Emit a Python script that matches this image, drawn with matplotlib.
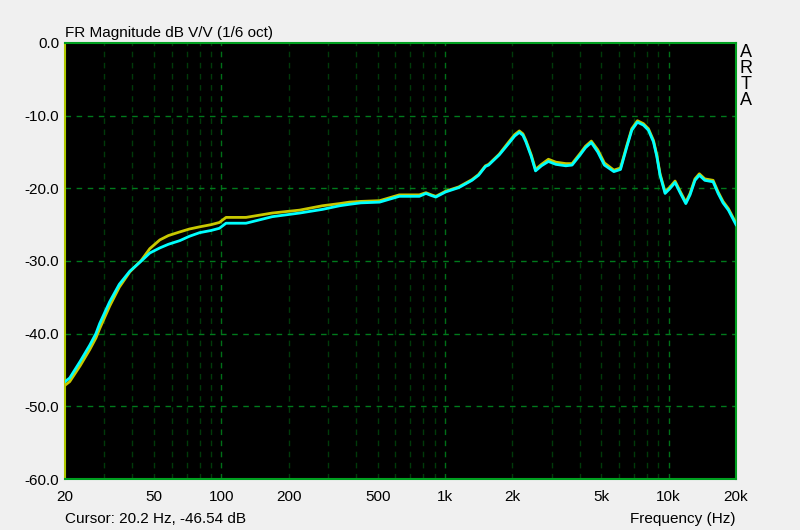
import numpy as np
import matplotlib
matplotlib.use('Agg')
import matplotlib.pyplot as plt
from matplotlib.ticker import FixedLocator, NullFormatter

# frequencies (Hz)
freq = [20, 21, 23.4, 25.8, 27.5, 28.6, 31.7, 35, 39, 43.9, 47.9, 53.1, 58, 65.2, 72, 80, 90, 98,
        105, 129, 169, 224, 283, 338, 374, 420, 510, 625, 768, 822, 870, 910, 1006, 1153, 1320,
        1413, 1516, 1567, 1748, 1930, 2050, 2150, 2230, 2300, 2430, 2540, 2700, 2900, 3130, 3470,
        3700, 4020, 4250, 4510, 4820, 5160, 5690, 6090, 6500, 6840, 7250, 7710, 8120, 8550, 8850,
        9150, 9640, 10150, 10680, 11250, 11930, 12460, 13110, 13710, 14510, 15800, 16640, 17500,
        18500, 20000]

# cyan trace (dB)
cyan_db = [-46.6, -46.1, -43.8, -41.6, -40.0, -38.6, -35.6, -33.2, -31.4, -30.0, -28.9, -28.2,
           -27.7, -27.2, -26.6, -26.1, -25.8, -25.5, -24.8, -24.8, -23.9, -23.4, -22.9, -22.4,
           -22.2, -22.0, -21.9, -21.1, -21.1, -20.7, -21.0, -21.2, -20.5, -19.9, -18.9, -18.2,
           -17.0, -16.8, -15.4, -13.8, -12.8, -12.3, -12.7, -13.6, -15.6, -17.6, -16.9, -16.3,
           -16.7, -16.9, -16.8, -15.4, -14.4, -13.7, -15.0, -16.8, -17.7, -17.4, -14.3, -12.0,
           -10.9, -11.3, -12.0, -13.6, -15.6, -18.2, -20.7, -20.0, -19.2, -20.6, -22.1, -20.9,
           -18.9, -18.2, -18.9, -19.1, -20.7, -22.0, -23.0, -25.0]

# yellow trace (dB)
yellow_db = [-47.1, -46.6, -44.4, -42.2, -40.6, -39.3, -36.2, -33.6, -31.5, -29.9, -28.3, -27.1,
             -26.5, -26.0, -25.6, -25.3, -25.0, -24.7, -24.0, -24.0, -23.4, -23.0, -22.4, -22.1,
             -21.9, -21.8, -21.7, -20.9, -20.9, -20.6, -20.9, -21.1, -20.4, -19.8, -18.8, -18.1,
             -16.9, -16.7, -15.3, -13.6, -12.6, -12.1, -12.5, -13.4, -15.4, -17.4, -16.7, -16.0,
             -16.4, -16.6, -16.6, -15.2, -14.2, -13.5, -14.7, -16.5, -17.5, -17.2, -14.1, -11.8,
             -10.7, -11.1, -11.8, -13.4, -15.4, -18.0, -20.5, -19.8, -19.0, -20.4, -21.9, -20.7,
             -18.7, -18.0, -18.7, -18.9, -20.5, -21.8, -22.8, -24.8]

xticks = [20, 50, 100, 200, 500, 1000, 2000, 5000, 10000, 20000]
xlabels = ['20', '50', '100', '200', '500', '1k', '2k', '5k', '10k', '20k']
yticks = [0, -10, -20, -30, -40, -50, -60]

plt.rcParams['font.family'] = ['Liberation Sans', 'DejaVu Sans']
bg = '#f0f0f0'

fig = plt.figure(figsize=(8, 5.3), dpi=100, facecolor=bg)
ax = fig.add_axes([0.0812, 0.0962, 0.8388, 0.8227], facecolor='black')

ax.plot(freq, yellow_db, color='#c8c800', lw=2.0, zorder=3)
ax.plot(freq, cyan_db, color='#00ffff', lw=2.0, zorder=4)

ax.set_xscale('log')
ax.set_xlim(20, 20000)
ax.set_ylim(-60, 0)

# grid: minor decades dim, decades and dB lines brighter
minor = [f * m for f in (10, 100, 1000, 10000) for m in range(2, 10) if 20 < f * m < 20000]
for f in minor:
    ax.axvline(f, color='#003a0a', lw=1, ls=(0, (4, 4)), zorder=1)
for f in (100, 1000, 10000):
    ax.axvline(f, color='#007018', lw=1, ls=(0, (4, 4)), zorder=1)
for y in yticks[1:-1]:
    ax.axhline(y, color='#007a1c', lw=1, ls=(0, (4, 4)), zorder=1)

ax.xaxis.set_major_locator(FixedLocator(xticks))
ax.set_xticklabels(xlabels)
ax.xaxis.set_minor_formatter(NullFormatter())
ax.xaxis.set_minor_locator(FixedLocator([]))
ax.set_yticks(yticks)
ax.set_yticklabels(['%.1f' % v for v in yticks])
ax.tick_params(length=0, labelsize=11, colors='black', pad=4)
ax.tick_params(axis='x', pad=8)

for s in ax.spines.values():
    s.set_color('#00a020')
    s.set_linewidth(1.5)
ax.spines['left'].set_color('#b0c800')

fig.text(0.0812, 0.931, 'FR Magnitude dB V/V (1/6 oct)', fontsize=11, ha='left', va='baseline')
fig.text(0.9325, 0.917, 'A\nR\nT\nA', fontsize=13, ha='center', va='top', linespacing=0.93)
fig.text(0.0812, 0.02, 'Cursor: 20.2 Hz, -46.54 dB', fontsize=11, ha='left', va='center')
fig.text(0.92, 0.02, 'Frequency (Hz)', fontsize=11, ha='right', va='center')

fig.savefig('out.png', dpi=100, facecolor=bg)
